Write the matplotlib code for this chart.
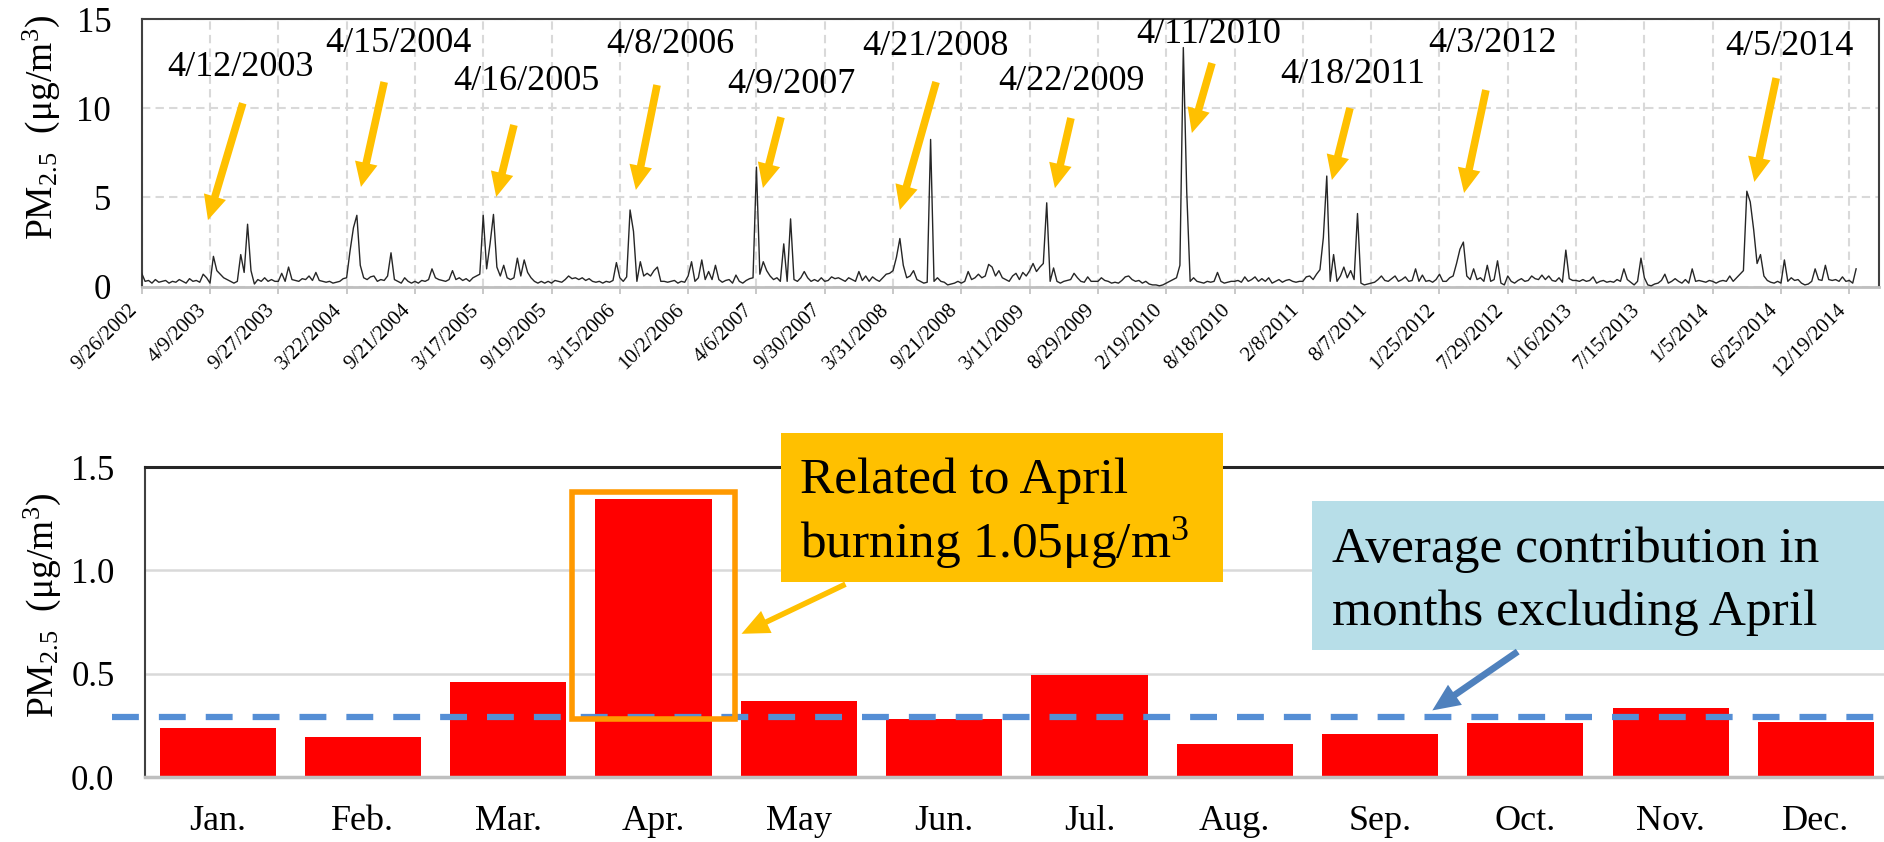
import matplotlib
matplotlib.use('Agg')
import matplotlib.pyplot as plt
from matplotlib.patches import Rectangle, FancyArrowPatch
import numpy as np

plt.rcParams['font.family'] = ['Liberation Serif', 'DejaVu Serif']
plt.rcParams['mathtext.default'] = 'regular'

W, H = 1884, 842

# ---------------- data ----------------
tick_dates = ['9/26/2002', '4/9/2003', '9/27/2003', '3/22/2004', '9/21/2004', '3/17/2005',
              '9/19/2005', '3/15/2006', '10/2/2006', '4/6/2007', '9/30/2007', '3/31/2008',
              '9/21/2008', '3/11/2009', '8/29/2009', '2/19/2010', '8/18/2010', '2/8/2011',
              '8/7/2011', '1/25/2012', '7/29/2012', '1/16/2013', '7/15/2013', '1/5/2014',
              '6/25/2014', '12/19/2014']
samples_per_tick = 20

pm25_series = [
    0.75, 0.3, 0.35, 0.2, 0.4, 0.25, 0.3, 0.35, 0.2, 0.3, 0.25, 0.4, 0.3, 0.2, 0.45, 0.3, 0.35, 0.25, 0.7, 0.5,
    0.2, 1.7, 0.9, 0.7, 0.5, 0.4, 0.3, 0.2, 0.3, 1.8, 0.8, 3.5, 0.9, 0.15, 0.4, 0.3, 0.5, 0.3, 0.4, 0.3,
    0.3, 0.75, 0.3, 1.1, 0.4, 0.35, 0.3, 0.45, 0.4, 0.6, 0.35, 0.8, 0.35, 0.3, 0.25, 0.3, 0.2, 0.25, 0.3, 0.45,
    0.5, 2.0, 3.3, 4.0, 1.2, 0.5, 0.4, 0.55, 0.6, 0.3, 0.4, 0.35, 0.6, 1.9, 0.4, 0.3, 0.2, 0.5, 0.3, 0.2,
    0.3, 0.2, 0.35, 0.3, 0.4, 1.0, 0.5, 0.4, 0.35, 0.3, 0.4, 0.9, 0.4, 0.5, 0.35, 0.45, 0.3, 0.5, 0.6, 0.7,
    4.0, 1.0, 2.4, 4.05, 1.1, 0.6, 1.2, 0.5, 0.4, 0.5, 1.6, 0.6, 1.5, 0.8, 0.5, 0.3, 0.2, 0.3, 0.2, 0.3,
    0.2, 0.35, 0.3, 0.25, 0.4, 0.6, 0.45, 0.5, 0.4, 0.5, 0.35, 0.45, 0.3, 0.25, 0.3, 0.2, 0.3, 0.25, 0.35, 1.35,
    0.5, 0.3, 0.55, 4.3, 3.1, 0.3, 1.4, 0.6, 0.75, 0.6, 0.9, 1.1, 0.3, 0.3, 0.25, 0.3, 0.35, 0.2, 0.3, 0.25,
    0.6, 1.4, 0.3, 0.5, 1.5, 0.4, 0.85, 0.4, 1.2, 0.4, 0.25, 0.35, 0.4, 0.2, 0.65, 0.3, 0.2, 0.35, 0.45, 0.5,
    6.7, 0.7, 1.4, 0.9, 0.6, 0.4, 0.5, 0.3, 2.4, 0.3, 3.8, 0.4, 0.3, 0.5, 0.85, 0.5, 0.3, 0.4, 0.3, 0.5,
    0.3, 0.35, 0.55, 0.45, 0.5, 0.4, 0.3, 0.5, 0.4, 0.3, 0.85, 0.35, 0.6, 0.3, 0.55, 0.4, 0.3, 0.5, 0.7, 0.75,
    0.9, 1.65, 2.7, 1.2, 0.5, 0.6, 0.9, 0.4, 0.3, 0.2, 0.25, 8.25, 0.3, 0.5, 0.3, 0.25, 0.1, 0.15, 0.2, 0.3,
    0.2, 0.3, 0.85, 0.4, 0.5, 0.7, 0.5, 0.6, 1.25, 1.1, 0.6, 0.9, 0.5, 0.4, 0.3, 0.6, 0.75, 0.4, 0.8, 0.6,
    0.9, 1.3, 0.85, 1.1, 1.3, 4.7, 0.3, 1.05, 0.3, 0.2, 0.3, 0.35, 0.4, 0.75, 0.5, 0.3, 0.25, 0.55, 0.3, 0.3,
    0.3, 0.5, 0.35, 0.3, 0.2, 0.25, 0.2, 0.35, 0.55, 0.6, 0.4, 0.3, 0.35, 0.2, 0.3, 0.15, 0.1, 0.1, 0.05, 0.1,
    0.2, 0.3, 0.4, 0.5, 1.2, 13.4, 5.3, 0.3, 0.5, 0.3, 0.25, 0.2, 0.3, 0.25, 0.3, 0.8, 0.3, 0.2, 0.25, 0.3,
    0.3, 0.35, 0.25, 0.55, 0.3, 0.4, 0.55, 0.3, 0.45, 0.3, 0.5, 0.2, 0.3, 0.4, 0.25, 0.35, 0.4, 0.3, 0.25, 0.3,
    0.3, 0.55, 0.6, 0.4, 0.7, 0.95, 2.75, 6.2, 0.3, 1.8, 0.3, 0.6, 1.1, 0.5, 0.9, 0.4, 4.1, 0.2, 0.1, 0.15,
    0.2, 0.25, 0.4, 0.6, 0.35, 0.3, 0.45, 0.6, 0.3, 0.4, 0.55, 0.3, 0.35, 1.0, 0.3, 0.65, 0.3, 0.35, 0.25, 0.4,
    0.7, 0.3, 0.3, 0.5, 0.6, 1.3, 2.1, 2.5, 0.6, 0.4, 1.0, 0.4, 0.5, 0.3, 1.2, 0.3, 0.4, 1.45, 0.2, 0.1,
    0.6, 0.3, 0.2, 0.35, 0.45, 0.3, 0.35, 0.6, 0.45, 0.4, 0.65, 0.4, 0.6, 0.35, 0.3, 0.5, 0.25, 2.05, 0.45, 0.35,
    0.35, 0.3, 0.4, 0.3, 0.35, 0.55, 0.2, 0.3, 0.35, 0.25, 0.3, 0.25, 0.4, 0.3, 1.0, 0.4, 0.25, 0.1, 0.3, 1.6,
    0.5, 0.1, 0.05, 0.15, 0.2, 0.35, 0.7, 0.2, 0.3, 0.45, 0.3, 0.2, 0.4, 0.2, 1.0, 0.3, 0.35, 0.3, 0.25, 0.35,
    0.3, 0.2, 0.3, 0.35, 0.3, 0.6, 0.3, 0.5, 0.7, 0.9, 5.35, 4.75, 3.2, 1.3, 1.8, 0.6, 0.35, 0.25, 0.2, 0.3,
    0.2, 1.5, 0.3, 0.5, 0.35, 0.4, 0.2, 0.1, 0.15, 0.3, 1.0, 0.4, 0.35, 1.2, 0.4, 0.35, 0.4, 0.3, 0.55, 0.3,
    0.35, 0.2, 1.0,
]

peak_labels = ['4/12/2003', '4/15/2004', '4/16/2005', '4/8/2006', '4/9/2007', '4/21/2008',
               '4/22/2009', '4/11/2010', '4/18/2011', '4/3/2012', '4/5/2014']

months = ['Jan.', 'Feb.', 'Mar.', 'Apr.', 'May', 'Jun.', 'Jul.', 'Aug.', 'Sep.', 'Oct.', 'Nov.', 'Dec.']
monthly_pm25 = [0.237, 0.194, 0.46, 1.345, 0.368, 0.281, 0.492, 0.158, 0.207, 0.26, 0.332, 0.266]
avg_excl_april = 0.29

# ---------------- layout helpers ----------------
def fx(px):
    return px / W

def fy(py):
    return 1 - py / H

fig = plt.figure(figsize=(W / 100, H / 100), dpi=100)

# ---------------- top panel ----------------
ax1 = fig.add_axes([fx(141.7), fy(286.7), (1879 - 141.7) / W, (286.7 - 19) / H])
x = np.arange(len(pm25_series))
ax1.plot(x, pm25_series, color='#262626', lw=1.0, zorder=3)
ax1.set_xlim(0, 508.7)
ax1.set_ylim(0, 15)
ax1.set_yticks([0, 5, 10, 15])
ax1.set_xticks(np.arange(len(tick_dates)) * samples_per_tick)
ax1.set_xticklabels(tick_dates, rotation=45, ha='right', va='top', fontsize=15)
ax1.tick_params(axis='x', length=5, color='#BFBFBF', width=1.2, pad=5)
ax1.tick_params(axis='y', length=0, pad=22, labelsize=25)
ax1.grid(True, color='#D9D9D9', ls=(0, (4, 2.5)), lw=1.5)
ax1.set_axisbelow(True)
for s in ['left', 'top', 'right']:
    ax1.spines[s].set_color('#404040')
    ax1.spines[s].set_linewidth(1.5)
ax1.spines['bottom'].set_color('#BFBFBF')
ax1.spines['bottom'].set_linewidth(2)

fig.text(fx(41), fy(127), 'PM$_{2.5}$  (μg/m$^3$)', rotation=90, ha='center', va='center', fontsize=27)

# peak annotations: (label x, label baseline y, arrow tail, arrow tip) in data units
peak_layout = [
    (28.8, 11.8, (29.6, 10.28), (19.4, 3.73)),
    (75.1, 13.15, (71.0, 11.47), (64.2, 5.59)),
    (112.5, 11.02, (109.0, 9.06), (103.8, 5.03)),
    (154.7, 13.09, (150.9, 11.3), (144.7, 5.42)),
    (190.1, 10.85, (187.2, 9.5), (181.9, 5.53)),
    (232.3, 12.98, (232.6, 11.47), (222.0, 4.3)),
    (272.4, 11.02, (272.1, 9.45), (267.4, 5.52)),
    (312.3, 13.65, (313.4, 12.53), (307.5, 8.61)),
    (354.7, 11.41, (353.8, 10.01), (348.5, 5.98)),
    (395.4, 13.15, (393.6, 11.02), (387.2, 5.25)),
    (482.4, 12.98, (478.6, 11.69), (472.2, 5.87)),
]
arrow_style = 'simple,head_length=0.8,head_width=0.75,tail_width=0.25'
for lab, (lx, ly, tail, tip) in zip(peak_labels, peak_layout):
    ax1.text(lx, ly, lab, ha='center', va='baseline', fontsize=26, zorder=5, clip_on=False)
    ax1.annotate('', xy=tip, xytext=tail,
                 arrowprops=dict(arrowstyle=arrow_style, fc='#FFC000', ec='none',
                                 mutation_scale=22, shrinkA=0, shrinkB=0), zorder=4)

# ---------------- bottom panel ----------------
ax2 = fig.add_axes([fx(145), fy(777), (12 * 145.3) / W, (777 - 467) / H])
xm = np.arange(len(months))
ax2.bar(xm, monthly_pm25, width=0.8, color='#FF0000', zorder=2)
ax2.set_xlim(-0.5, 11.5)
ax2.set_ylim(0, 1.5)
ax2.set_yticks([0, 0.5, 1.0, 1.5])
ax2.set_yticklabels(['0.0', '0.5', '1.0', '1.5'])
ax2.set_xticks(xm)
ax2.set_xticklabels(months)
ax2.tick_params(axis='x', length=0, pad=20, labelsize=26)
ax2.tick_params(axis='y', length=0, pad=22, labelsize=25)
ax2.yaxis.grid(True, color='#D9D9D9', lw=1.8)
ax2.set_axisbelow(True)
ax2.spines['left'].set_color('#404040')
ax2.spines['left'].set_linewidth(1.5)
ax2.spines['top'].set_color('#262626')
ax2.spines['top'].set_linewidth(2.2)
ax2.spines['bottom'].set_color('#BFBFBF')
ax2.spines['bottom'].set_linewidth(2.5)
ax2.spines['right'].set_visible(False)

ax2.plot([-0.727, 11.5], [avg_excl_april] * 2, color='#558ED5', lw=4.5,
         ls=(0, (4.3, 3.2)), dash_capstyle='butt', clip_on=False, zorder=3)

apr = months.index('Apr.')
ax2.add_patch(Rectangle((apr - 0.56, avg_excl_april - 0.01), 1.12,
                        monthly_pm25[apr] + 0.033 - (avg_excl_april - 0.01),
                        fill=False, ec='#FF9900', lw=4, zorder=4, clip_on=False))

fig.text(fx(42), fy(605), 'PM$_{2.5}$  (μg/m$^3$)', rotation=90, ha='center', va='center', fontsize=27)

# annotation boxes
fig.add_artist(Rectangle((fx(781), fy(582)), (1223 - 781) / W, (582 - 433) / H,
                         transform=fig.transFigure, fc='#FFC000', ec='none', zorder=5))
fig.text(fx(800), fy(493), 'Related to April', fontsize=37, va='baseline', zorder=6)
fig.text(fx(800), fy(557), 'burning 1.05μg/m$^3$', fontsize=37, va='baseline', zorder=6)

fig.add_artist(Rectangle((fx(1312), fy(650)), (1890 - 1312) / W, (650 - 501) / H,
                         transform=fig.transFigure, fc='#B7DEE8', ec='none', zorder=5))
fig.text(fx(1332), fy(562), 'Average contribution in', fontsize=37, va='baseline', zorder=6)
fig.text(fx(1332), fy(625), 'months excluding April', fontsize=37, va='baseline', zorder=6)

fig.add_artist(FancyArrowPatch((fx(848), fy(583)), (fx(739), fy(635)), transform=fig.transFigure,
                               arrowstyle='simple,head_length=0.9,head_width=0.8,tail_width=0.18',
                               mutation_scale=22, fc='#FFC000', ec='none', zorder=6))
fig.add_artist(FancyArrowPatch((fx(1520), fy(650)), (fx(1430), fy(712)), transform=fig.transFigure,
                               arrowstyle='simple,head_length=0.9,head_width=0.8,tail_width=0.22',
                               mutation_scale=22, fc='#4F81BD', ec='none', zorder=6))

fig.savefig('out.png', dpi=100)
